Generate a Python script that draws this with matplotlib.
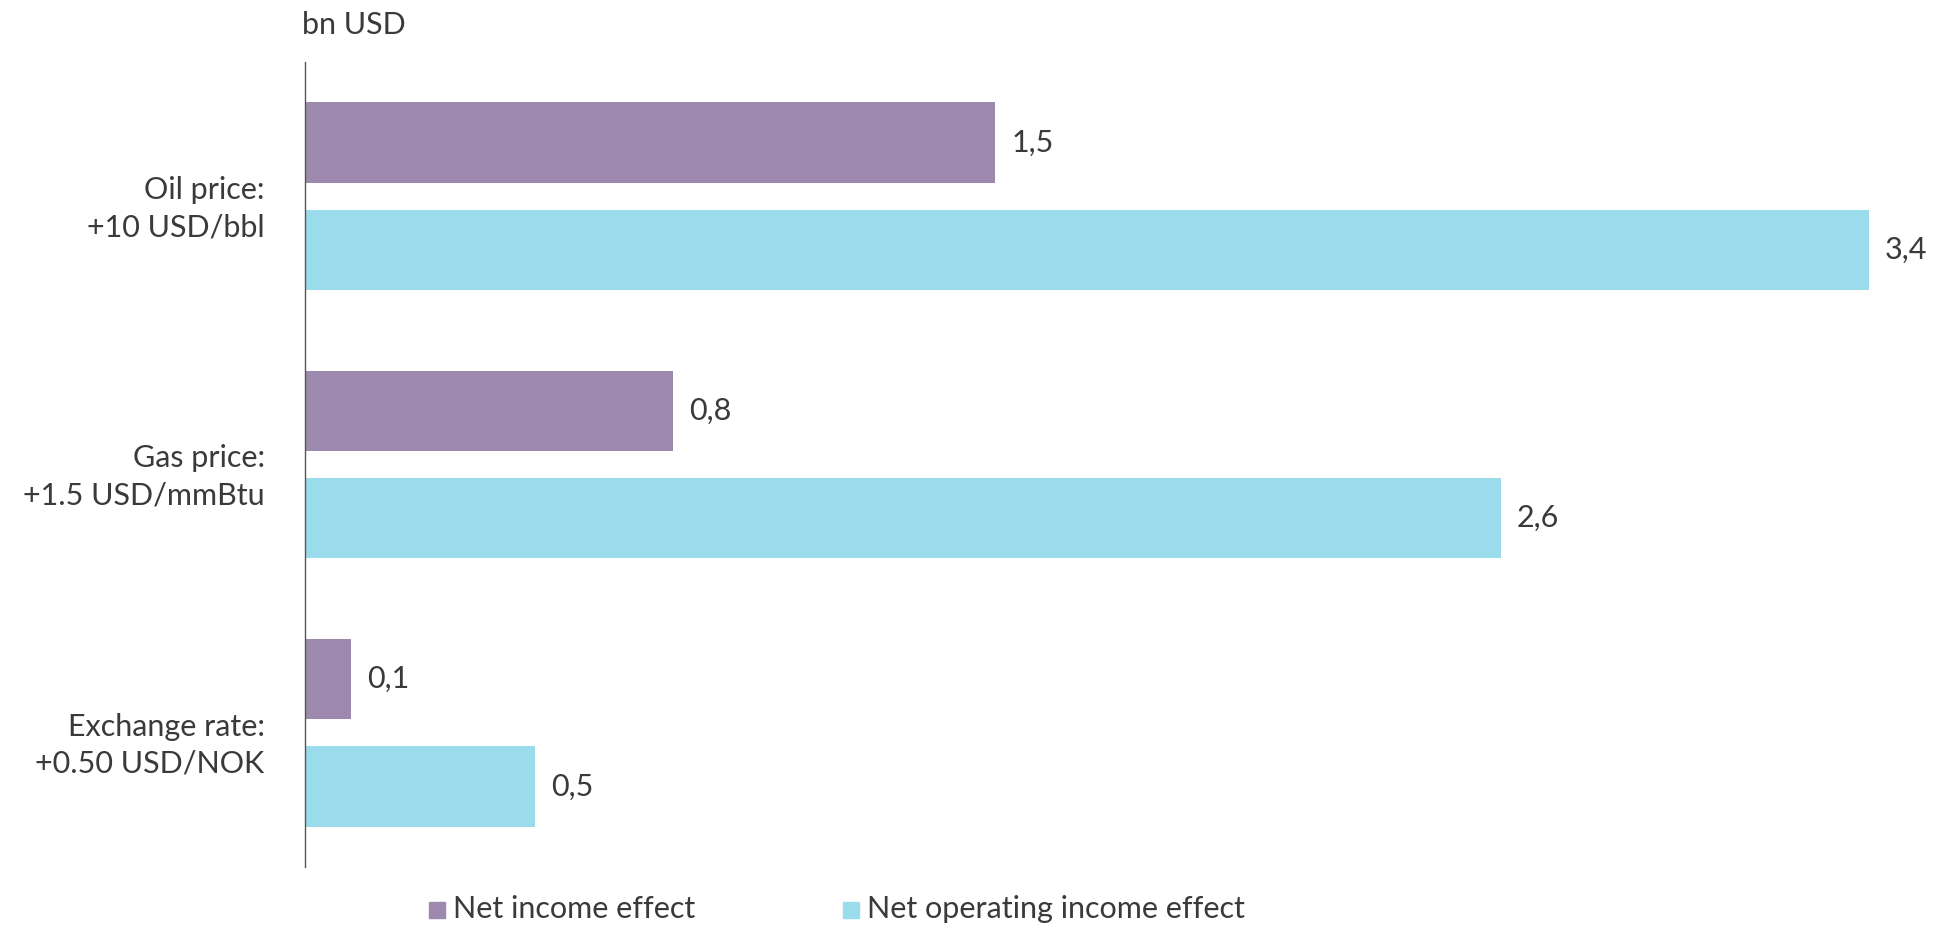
import matplotlib as mpl
mpl.use('Agg')
import numpy as np
import matplotlib.pyplot as plt
from matplotlib.patches import Rectangle

mpl.rcParams['font.family'] = ['Lato', 'DejaVu Sans']
mpl.rcParams['font.weight'] = 'normal'

categories = ['Oil price:\n+10 USD/bbl', 'Gas price:\n+1.5 USD/mmBtu', 'Exchange rate:\n+0.50 USD/NOK']
net_income = [1.5, 0.8, 0.1]
net_operating = [3.4, 2.6, 0.5]
labels_income = ['1,5', '0,8', '0,1']
labels_operating = ['3,4', '2,6', '0,5']
series_names = ['Net income effect', 'Net operating income effect']
colors = ['#9d89ae', '#9bdcec']
text_col = '#3a3a3a'
fs = 22

W, H = 1942, 930
fig = plt.figure(figsize=(W / 100, H / 100), dpi=100)
ax = fig.add_axes([305 / W, 63 / H, (W - 305) / W, 805 / H])

y = np.arange(len(categories))
h = 0.3
ax.barh(y - 0.2, net_income, height=h, color=colors[0])
ax.barh(y + 0.2, net_operating, height=h, color=colors[1])

# value labels just past the bar ends
for yi, v, s in zip(y - 0.2, net_income, labels_income):
    ax.text(v + 0.035, yi, s, va='center', ha='left', fontsize=fs, color=text_col)
for yi, v, s in zip(y + 0.2, net_operating, labels_operating):
    ax.text(v + 0.035, yi, s, va='center', ha='left', fontsize=fs, color=text_col)

ax.set_xlim(0, (W - 305) / 460)
ax.set_ylim(2.5, -0.5)
ax.set_yticks(y + 0.02)
ax.set_yticklabels(categories, fontsize=fs, color=text_col, linespacing=1.4, ha='right')
ax.tick_params(axis='y', length=0, pad=29)
ax.set_xticks([])
for side in ['top', 'right', 'bottom']:
    ax.spines[side].set_visible(False)
ax.spines['left'].set_color('#555555')
ax.spines['left'].set_linewidth(1.0)

fig.text(302 / W, 1 - 25 / H, 'bn USD', fontsize=fs, color=text_col, va='center', ha='left')

# legend drawn as squares + text along the bottom
for x0, c, name in zip([429, 843], colors, series_names):
    fig.add_artist(Rectangle((x0 / W, 1 - 918 / H), 16 / W, 16 / H,
                             transform=fig.transFigure, color=c))
    fig.text((x0 + 24) / W, 1 - 909 / H, name, fontsize=fs, color=text_col,
             va='center', ha='left')

fig.savefig('out.png', dpi=100, facecolor='white')
